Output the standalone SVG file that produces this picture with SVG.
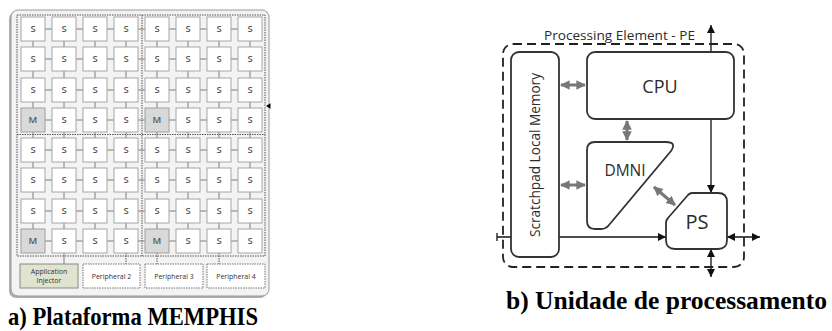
<svg xmlns="http://www.w3.org/2000/svg" width="832" height="331" viewBox="0 0 832 331">
  <style>
    .tile { fill: #ffffff; stroke: #a6a6a6; stroke-width: 1; }
    .mtile { fill: #d9d9d9; stroke: #a0a0a0; stroke-width: 1; }
    .tl { font-family: "Open Sans", "Liberation Sans", sans-serif; font-size: 9.5px; font-weight: 600; fill: #595959; text-anchor: middle; }
    .link { stroke: #7f7f7f; stroke-width: 1; fill: none; }
    .dots { stroke: #555555; stroke-width: 1; stroke-dasharray: 1.5 1; fill: none; }
    .periph { fill: #ffffff; stroke: #777777; stroke-width: 1; stroke-dasharray: 1.5 1; }
    .pl { font-family: "Open Sans", "Liberation Sans", sans-serif; font-size: 7px; fill: #333333; text-anchor: middle; }
    .blk { fill: #ffffff; stroke: #333333; stroke-width: 1.8; }
    .lbl { font-family: "Open Sans", "Liberation Sans", sans-serif; fill: #2b2b2b; }
    .garrow { stroke: #777777; stroke-width: 3; fill: none; marker-start: url(#gh); marker-end: url(#gh); }
    .barrow { stroke: #111111; stroke-width: 1.3; fill: none; }
    .cap { font-family: "Liberation Serif", "Times New Roman", serif; font-weight: bold; font-size: 26px; fill: #000000; }
  </style>
  <defs>
    <marker id="gh" viewBox="0 0 10 10" refX="9" refY="5" markerWidth="3.2" markerHeight="3.4" orient="auto-start-reverse" markerUnits="strokeWidth">
      <path d="M0,0 L10,5 L0,10 Z" fill="#777777"/>
    </marker>
    <marker id="bh" viewBox="0 0 10 10" refX="10" refY="5" markerWidth="6.5" markerHeight="6.5" orient="auto-start-reverse" markerUnits="strokeWidth">
      <path d="M0,0 L10,5 L0,10 Z" fill="#111111"/>
    </marker>
  </defs>

  <rect width="832" height="331" fill="#ffffff"/>

  <!-- ===== a) MEMPHIS platform ===== -->
  <g id="platform">
    <rect x="9" y="12" width="258" height="286" rx="7" fill="#8c8c8c" opacity="0.7"/>
    <rect x="11" y="10" width="258" height="286" rx="7" fill="#f3f3f3" stroke="#9a9a9a" stroke-width="1"/>
    <!-- quadrant boundaries -->
    <rect x="17" y="15" width="248" height="241" class="dots"/>
    <line x1="142" y1="15" x2="142" y2="256" class="dots"/>
    <line x1="17" y1="134.5" x2="265" y2="134.5" class="dots"/>
    <polygon points="266,106 270.5,103.3 270.5,108.7" fill="#000000"/>
  </g>

  <g id="connectors">
    <!-- mesh links: horizontal -->
    <g class="link">
      <path d="M45,29H52M76,29H83M107,29H114M138,29H145M169,29H176M200,29H207M231,29H238"/>
      <path d="M45,59H52M76,59H83M107,59H114M138,59H145M169,59H176M200,59H207M231,59H238"/>
      <path d="M45,90H52M76,90H83M107,90H114M138,90H145M169,90H176M200,90H207M231,90H238"/>
      <path d="M45,120H52M76,120H83M107,120H114M138,120H145M169,120H176M200,120H207M231,120H238"/>
      <path d="M45,150H52M76,150H83M107,150H114M138,150H145M169,150H176M200,150H207M231,150H238"/>
      <path d="M45,180H52M76,180H83M107,180H114M138,180H145M169,180H176M200,180H207M231,180H238"/>
      <path d="M45,211H52M76,211H83M107,211H114M138,211H145M169,211H176M200,211H207M231,211H238"/>
      <path d="M45,241H52M76,241H83M107,241H114M138,241H145M169,241H176M200,241H207M231,241H238"/>
    </g>
    <!-- mesh links: vertical -->
    <g class="link">
      <path d="M33,41V47M64,41V47M95,41V47M126,41V47M157,41V47M188,41V47M219,41V47M250,41V47"/>
      <path d="M33,71V78M64,71V78M95,71V78M126,71V78M157,71V78M188,71V78M219,71V78M250,71V78"/>
      <path d="M33,102V108M64,102V108M95,102V108M126,102V108M157,102V108M188,102V108M219,102V108M250,102V108"/>
      <path d="M33,132V138M64,132V138M95,132V138M126,132V138M157,132V138M188,132V138M219,132V138M250,132V138"/>
      <path d="M33,162V168M64,162V168M95,162V168M126,162V168M157,162V168M188,162V168M219,162V168M250,162V168"/>
      <path d="M33,192V199M64,192V199M95,192V199M126,192V199M157,192V199M188,192V199M219,192V199M250,192V199"/>
      <path d="M33,223V229M64,223V229M95,223V229M126,223V229M157,223V229M188,223V229M219,223V229M250,223V229"/>
    </g>
    <!-- links to peripherals -->
    <line x1="64" y1="253" x2="64" y2="264" class="link"/>
    <line x1="126" y1="253" x2="126" y2="264" class="dots"/>
    <line x1="157" y1="253" x2="157" y2="264" class="dots"/>
    <line x1="219" y1="253" x2="219" y2="264" class="dots"/>

    <!-- PE internal links -->
    <line x1="561" y1="85" x2="585" y2="85" class="garrow"/>
    <line x1="627" y1="121" x2="627" y2="140" class="garrow"/>
    <line x1="561" y1="185" x2="585" y2="185" class="garrow"/>
    <line x1="654" y1="187" x2="675" y2="205" class="garrow"/>

    <!-- PS ports -->
    <line x1="711" y1="25" x2="711" y2="193" class="barrow" marker-start="url(#bh)" marker-end="url(#bh)"/>
    <line x1="497" y1="237" x2="666" y2="237" class="barrow" marker-end="url(#bh)"/>
    <line x1="497" y1="233" x2="497" y2="241" class="barrow"/>
    <line x1="727" y1="237" x2="760" y2="237" class="barrow" marker-start="url(#bh)" marker-end="url(#bh)"/>
    <line x1="711" y1="249" x2="711" y2="277" class="barrow" marker-start="url(#bh)" marker-end="url(#bh)"/>
  </g>

  <!-- mesh tiles -->
  <g id="tiles">
    <g id="r1">
      <rect x="21" y="17" width="24" height="24" class="tile"/><text x="33" y="32" class="tl">S</text>
      <rect x="52" y="17" width="24" height="24" class="tile"/><text x="64" y="32" class="tl">S</text>
      <rect x="83" y="17" width="24" height="24" class="tile"/><text x="95" y="32" class="tl">S</text>
      <rect x="114" y="17" width="24" height="24" class="tile"/><text x="126" y="32" class="tl">S</text>
      <rect x="145" y="17" width="24" height="24" class="tile"/><text x="157" y="32" class="tl">S</text>
      <rect x="176" y="17" width="24" height="24" class="tile"/><text x="188" y="32" class="tl">S</text>
      <rect x="207" y="17" width="24" height="24" class="tile"/><text x="219" y="32" class="tl">S</text>
      <rect x="238" y="17" width="24" height="24" class="tile"/><text x="250" y="32" class="tl">S</text>
    </g>
    <g id="r2">
      <rect x="21" y="47" width="24" height="24" class="tile"/><text x="33" y="62" class="tl">S</text>
      <rect x="52" y="47" width="24" height="24" class="tile"/><text x="64" y="62" class="tl">S</text>
      <rect x="83" y="47" width="24" height="24" class="tile"/><text x="95" y="62" class="tl">S</text>
      <rect x="114" y="47" width="24" height="24" class="tile"/><text x="126" y="62" class="tl">S</text>
      <rect x="145" y="47" width="24" height="24" class="tile"/><text x="157" y="62" class="tl">S</text>
      <rect x="176" y="47" width="24" height="24" class="tile"/><text x="188" y="62" class="tl">S</text>
      <rect x="207" y="47" width="24" height="24" class="tile"/><text x="219" y="62" class="tl">S</text>
      <rect x="238" y="47" width="24" height="24" class="tile"/><text x="250" y="62" class="tl">S</text>
    </g>
    <g id="r3">
      <rect x="21" y="78" width="24" height="24" class="tile"/><text x="33" y="93" class="tl">S</text>
      <rect x="52" y="78" width="24" height="24" class="tile"/><text x="64" y="93" class="tl">S</text>
      <rect x="83" y="78" width="24" height="24" class="tile"/><text x="95" y="93" class="tl">S</text>
      <rect x="114" y="78" width="24" height="24" class="tile"/><text x="126" y="93" class="tl">S</text>
      <rect x="145" y="78" width="24" height="24" class="tile"/><text x="157" y="93" class="tl">S</text>
      <rect x="176" y="78" width="24" height="24" class="tile"/><text x="188" y="93" class="tl">S</text>
      <rect x="207" y="78" width="24" height="24" class="tile"/><text x="219" y="93" class="tl">S</text>
      <rect x="238" y="78" width="24" height="24" class="tile"/><text x="250" y="93" class="tl">S</text>
    </g>
    <g id="r4">
      <rect x="21" y="108" width="24" height="24" class="mtile"/><text x="33" y="123" class="tl">M</text>
      <rect x="52" y="108" width="24" height="24" class="tile"/><text x="64" y="123" class="tl">S</text>
      <rect x="83" y="108" width="24" height="24" class="tile"/><text x="95" y="123" class="tl">S</text>
      <rect x="114" y="108" width="24" height="24" class="tile"/><text x="126" y="123" class="tl">S</text>
      <rect x="145" y="108" width="24" height="24" class="mtile"/><text x="157" y="123" class="tl">M</text>
      <rect x="176" y="108" width="24" height="24" class="tile"/><text x="188" y="123" class="tl">S</text>
      <rect x="207" y="108" width="24" height="24" class="tile"/><text x="219" y="123" class="tl">S</text>
      <rect x="238" y="108" width="24" height="24" class="tile"/><text x="250" y="123" class="tl">S</text>
    </g>
    <g id="r5">
      <rect x="21" y="138" width="24" height="24" class="tile"/><text x="33" y="153" class="tl">S</text>
      <rect x="52" y="138" width="24" height="24" class="tile"/><text x="64" y="153" class="tl">S</text>
      <rect x="83" y="138" width="24" height="24" class="tile"/><text x="95" y="153" class="tl">S</text>
      <rect x="114" y="138" width="24" height="24" class="tile"/><text x="126" y="153" class="tl">S</text>
      <rect x="145" y="138" width="24" height="24" class="tile"/><text x="157" y="153" class="tl">S</text>
      <rect x="176" y="138" width="24" height="24" class="tile"/><text x="188" y="153" class="tl">S</text>
      <rect x="207" y="138" width="24" height="24" class="tile"/><text x="219" y="153" class="tl">S</text>
      <rect x="238" y="138" width="24" height="24" class="tile"/><text x="250" y="153" class="tl">S</text>
    </g>
    <g id="r6">
      <rect x="21" y="168" width="24" height="24" class="tile"/><text x="33" y="183" class="tl">S</text>
      <rect x="52" y="168" width="24" height="24" class="tile"/><text x="64" y="183" class="tl">S</text>
      <rect x="83" y="168" width="24" height="24" class="tile"/><text x="95" y="183" class="tl">S</text>
      <rect x="114" y="168" width="24" height="24" class="tile"/><text x="126" y="183" class="tl">S</text>
      <rect x="145" y="168" width="24" height="24" class="tile"/><text x="157" y="183" class="tl">S</text>
      <rect x="176" y="168" width="24" height="24" class="tile"/><text x="188" y="183" class="tl">S</text>
      <rect x="207" y="168" width="24" height="24" class="tile"/><text x="219" y="183" class="tl">S</text>
      <rect x="238" y="168" width="24" height="24" class="tile"/><text x="250" y="183" class="tl">S</text>
    </g>
    <g id="r7">
      <rect x="21" y="199" width="24" height="24" class="tile"/><text x="33" y="214" class="tl">S</text>
      <rect x="52" y="199" width="24" height="24" class="tile"/><text x="64" y="214" class="tl">S</text>
      <rect x="83" y="199" width="24" height="24" class="tile"/><text x="95" y="214" class="tl">S</text>
      <rect x="114" y="199" width="24" height="24" class="tile"/><text x="126" y="214" class="tl">S</text>
      <rect x="145" y="199" width="24" height="24" class="tile"/><text x="157" y="214" class="tl">S</text>
      <rect x="176" y="199" width="24" height="24" class="tile"/><text x="188" y="214" class="tl">S</text>
      <rect x="207" y="199" width="24" height="24" class="tile"/><text x="219" y="214" class="tl">S</text>
      <rect x="238" y="199" width="24" height="24" class="tile"/><text x="250" y="214" class="tl">S</text>
    </g>
    <g id="r8">
      <rect x="21" y="229" width="24" height="24" class="mtile"/><text x="33" y="244" class="tl">M</text>
      <rect x="52" y="229" width="24" height="24" class="tile"/><text x="64" y="244" class="tl">S</text>
      <rect x="83" y="229" width="24" height="24" class="tile"/><text x="95" y="244" class="tl">S</text>
      <rect x="114" y="229" width="24" height="24" class="tile"/><text x="126" y="244" class="tl">S</text>
      <rect x="145" y="229" width="24" height="24" class="mtile"/><text x="157" y="244" class="tl">M</text>
      <rect x="176" y="229" width="24" height="24" class="tile"/><text x="188" y="244" class="tl">S</text>
      <rect x="207" y="229" width="24" height="24" class="tile"/><text x="219" y="244" class="tl">S</text>
      <rect x="238" y="229" width="24" height="24" class="tile"/><text x="250" y="244" class="tl">S</text>
    </g>
  </g>

  <!-- peripherals -->
  <g id="app-injector">
    <rect x="20" y="264" width="58" height="24" fill="#dfe3cf" stroke="#8a8c7c" stroke-width="1"/>
    <text x="49" y="274" class="pl">Application</text>
    <text x="49" y="283" class="pl">Injector</text>
  </g>
  <g id="peripheral-2">
    <rect x="83" y="264" width="57" height="24" class="periph"/>
    <text x="111.5" y="279" class="pl">Peripheral 2</text>
  </g>
  <g id="peripheral-3">
    <rect x="145" y="264" width="58" height="24" class="periph"/>
    <text x="174" y="279" class="pl">Peripheral 3</text>
  </g>
  <g id="peripheral-4">
    <rect x="207" y="264" width="58" height="24" class="periph"/>
    <text x="236" y="279" class="pl">Peripheral 4</text>
  </g>

  <!-- ===== b) processing element ===== -->
  <g id="pe">
    <rect x="503" y="44" width="241" height="223" rx="10" fill="none" stroke="#222222" stroke-width="1.8" stroke-dasharray="9 5"/>
    <text x="544" y="40" class="lbl" font-size="13.5" textLength="151" lengthAdjust="spacingAndGlyphs">Processing Element - PE</text>
  </g>
  <g id="memory">
    <rect x="511" y="52" width="48" height="205" rx="8" class="blk"/>
    <text transform="translate(540,155) rotate(-90)" class="lbl" font-size="14" text-anchor="middle" textLength="164" lengthAdjust="spacingAndGlyphs">Scratchpad Local Memory</text>
  </g>
  <g id="cpu">
    <rect x="587" y="52" width="147" height="67" rx="8" class="blk"/>
    <text x="660" y="93" class="lbl" font-size="18" text-anchor="middle">CPU</text>
  </g>
  <g id="dmni">
    <path d="M595,142 H666 Q677,142 671,151 L609,225 Q606,229 601,229 H595 Q587,229 587,221 V150 Q587,142 595,142 Z" class="blk"/>
    <text x="625" y="176" class="lbl" font-size="15.5" text-anchor="middle">DMNI</text>
  </g>
  <g id="ps">
    <path d="M692,193 H718 Q727,193 727,202 V240 Q727,249 718,249 H675 Q666,249 666,240 V223 Q666,220 668,218 L688,195 Q690,193 692,193 Z" class="blk"/>
    <text x="697" y="229" class="lbl" font-size="20" text-anchor="middle">PS</text>
  </g>

  <!-- captions -->
  <text x="8" y="325" class="cap" textLength="250" lengthAdjust="spacingAndGlyphs">a) Plataforma MEMPHIS</text>
  <text x="506" y="309" class="cap" textLength="321" lengthAdjust="spacingAndGlyphs">b) Unidade de processamento</text>
</svg>
